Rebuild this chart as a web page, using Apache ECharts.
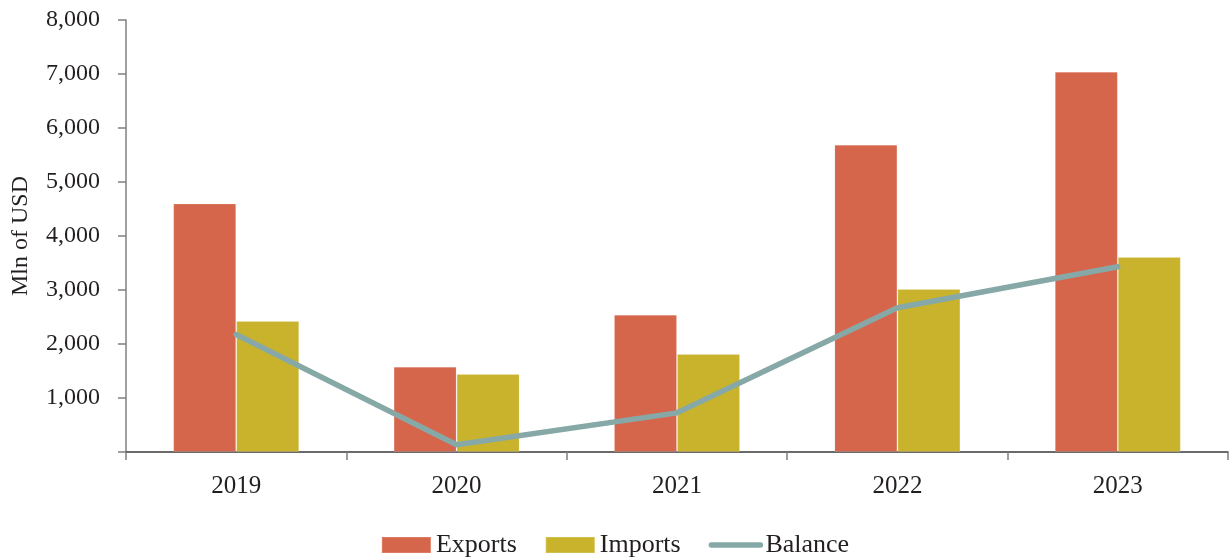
<!DOCTYPE html>
<html>
<head>
<meta charset="utf-8">
<title>Exports, Imports and Balance</title>
<script src="https://cdn.jsdelivr.net/npm/echarts@6/dist/echarts.min.js"></script>
<style>
  html, body { margin: 0; padding: 0; background: #ffffff; }
  #chart { width: 1230px; height: 558px; }
</style>
</head>
<body>
<div id="chart"></div>
<script>
// Trade figures, million USD
const years = ['2019', '2020', '2021', '2022', '2023'];
const exportsMln = [4600, 1580, 2540, 5690, 7040];
const importsMln = [2425, 1445, 1815, 3020, 3610];
const balanceMln = [2175, 135, 725, 2670, 3430];

const FONT = '"Liberation Serif", "DejaVu Serif", serif';
const TEXT = '#231f20';
const LINE_COLOR = '#86a9a8';

const chart = echarts.init(document.getElementById('chart'), null, { renderer: 'canvas' });

chart.setOption({
  animation: false,
  backgroundColor: '#ffffff',
  textStyle: { fontFamily: FONT, color: TEXT },
  grid: { left: 126, right: 2, top: 20, bottom: 106, containLabel: false },
  legend: {
    top: 532,
    left: 'center',
    padding: 0,
    itemWidth: 49,
    itemHeight: 16,
    itemGap: 28,
    textStyle: { fontFamily: FONT, fontSize: 26, color: TEXT },
    data: [
      { name: 'Exports', icon: 'rect' },
      { name: 'Imports', icon: 'rect' },
      {
        name: 'Balance',
        itemStyle: { opacity: 0 },
        lineStyle: { color: LINE_COLOR, width: 5.5, cap: 'round' }
      }
    ]
  },
  xAxis: {
    type: 'category',
    data: years,
    axisLine: { show: true, lineStyle: { color: '#3a3a3a', width: 1.5 } },
    axisTick: { show: true, alignWithLabel: false, length: 8, lineStyle: { color: '#808080', width: 1.5 } },
    axisLabel: { fontFamily: FONT, fontSize: 25, color: TEXT, margin: 22 },
    splitLine: { show: false }
  },
  yAxis: {
    type: 'value',
    min: 0,
    max: 8000,
    interval: 1000,
    name: 'Mln of USD',
    nameLocation: 'middle',
    nameGap: 93,
    nameRotate: 90,
    nameTextStyle: { fontFamily: FONT, fontSize: 24, color: TEXT },
    axisLine: { show: true, lineStyle: { color: '#808080', width: 1.5 } },
    axisTick: { show: true, length: 8, lineStyle: { color: '#808080', width: 1.5 } },
    axisLabel: {
      fontFamily: FONT,
      fontSize: 24,
      color: TEXT,
      margin: 26,
      formatter: function (v) { return v === 0 ? '' : v.toLocaleString('en-US'); }
    },
    splitLine: { show: false }
  },
  series: [
    {
      name: 'Exports',
      type: 'bar',
      data: exportsMln,
      barWidth: 63,
      barGap: '0%',
      itemStyle: { color: '#d5654b', borderColor: 'rgba(255,255,255,0.15)', borderWidth: 1 }
    },
    {
      name: 'Imports',
      type: 'bar',
      data: importsMln,
      barWidth: 63,
      barGap: '0%',
      itemStyle: { color: '#cab32c', borderColor: 'rgba(255,255,255,0.15)', borderWidth: 1 }
    },
    {
      name: 'Balance',
      type: 'line',
      data: balanceMln,
      symbol: 'none',
      lineStyle: { color: LINE_COLOR, width: 5.5, cap: 'round' },
      itemStyle: { color: LINE_COLOR },
      z: 5
    }
  ]
});
</script>
</body>
</html>
